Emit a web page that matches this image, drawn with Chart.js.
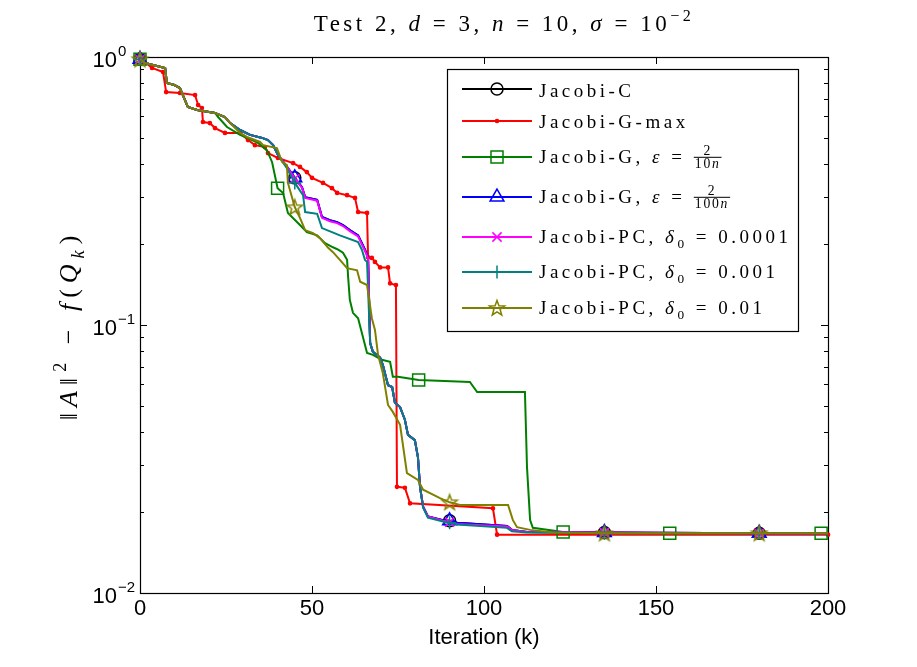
<!DOCTYPE html>
<html><head><meta charset="utf-8">
<script src="https://cdn.jsdelivr.net/npm/chart.js@4.4.0/dist/chart.umd.min.js"></script>
<style>html,body{margin:0;padding:0;background:#fff}canvas{display:block}</style>
</head><body>
<canvas id="c" width="917" height="667"></canvas>
<script>
// ---- tick labels ----
const xTickValues = [0, 50, 100, 150, 200];
const yTickValues = [1, 0.1, 0.01];
const yTickExponents = ['0', '\u22121', '\u22122'];

// ---- series data (iteration k, value) ----
const iterC = [0,1.5,7.3,7.8,10,11.6,13.9,16.6,21.8,24.7,26.2,29.1,32,35.5,37.2,38.7,40.1,42.7,45,47.1,48,51.5,52.9,55.2,57.3,59,61,63.4,64.5,65.4,66.3,66.9,67.7,69.8,70.6,72.1,73.3,74.1,75.6,77,77.9,79.9,80.8,81.4,82.3,83.7,88.1,90,92.2,106.7,108.1,112.5,135,180,200];
const valC  = [0.98,0.95,0.91,0.80,0.786,0.766,0.651,0.634,0.618,0.597,0.567,0.534,0.512,0.499,0.49,0.469,0.431,0.39,0.354,0.327,0.30,0.293,0.253,0.246,0.242,0.236,0.226,0.216,0.202,0.191,0.179,0.0857,0.0794,0.0755,0.0709,0.0596,0.0587,0.0513,0.0494,0.0443,0.0389,0.0372,0.0321,0.0249,0.0210,0.0193,0.0187,0.0186,0.0183,0.0178,0.0172,0.0169,0.0168,0.0167,0.0167];

const iterGmax = [0,0.6,3.5,6.7,7.6,11.6,16,16.9,18,18.3,20.3,21.8,24.7,29.1,31.4,33.4,36.3,37.2,40.1,44.5,46.5,48.5,50,53.2,55.8,57.3,60.2,62.5,63.4,66,66.3,67.4,68.3,69.8,72.1,72.7,74.4,74.7,77,78.5,102.6,103.8,200];
const valGmax  = [0.98,0.975,0.91,0.879,0.74,0.734,0.721,0.662,0.645,0.572,0.567,0.543,0.521,0.521,0.49,0.469,0.461,0.438,0.42,0.402,0.389,0.372,0.354,0.339,0.324,0.311,0.305,0.298,0.264,0.262,0.179,0.178,0.172,0.164,0.164,0.143,0.141,0.0249,0.0247,0.0216,0.0207,0.0165,0.0165];

const iterG10 = [0,1.5,7.3,7.8,10,11.6,13.9,16.6,21.8,22.7,25.3,29.1,31.1,34.3,36.9,38.4,40,41.6,43,46.5,48.5,51.5,52.3,53.8,56.1,57.6,59,60.2,60.5,61,61.9,63.4,66,67.7,70.3,72.7,73.5,75,81,95.9,98,111.9,112.5,113.4,114.2,123,154,198,200];
const valG10  = [0.98,0.95,0.91,0.80,0.786,0.766,0.651,0.634,0.618,0.597,0.548,0.512,0.499,0.478,0.449,0.405,0.324,0.311,0.262,0.236,0.222,0.216,0.211,0.202,0.195,0.191,0.186,0.175,0.151,0.124,0.111,0.106,0.0787,0.0774,0.0742,0.0729,0.0641,0.0641,0.0623,0.0613,0.0562,0.0562,0.0295,0.0187,0.0175,0.0169,0.0167,0.0167,0.0167];

const iterG100 = [0,1.5,7.3,7.8,10,11.6,13.9,16.6,21.8,24.7,26.2,29.1,32,35.5,37.2,38.7,40.1,42.7,45,47.1,48,51.5,52.9,55.2,57.3,59,61,63.4,64.5,65.4,66.3,66.9,67.7,69.8,70.6,72.1,73.3,74.1,75.6,77,77.9,79.9,80.8,81.4,82.3,83.7,88.1,90,92.2,106.7,108.1,112.5,135,180,200];
const valG100  = [0.98,0.95,0.91,0.80,0.786,0.766,0.651,0.634,0.618,0.597,0.567,0.534,0.512,0.499,0.49,0.469,0.431,0.39,0.354,0.327,0.30,0.293,0.253,0.246,0.242,0.236,0.226,0.216,0.202,0.191,0.179,0.0857,0.0794,0.0755,0.0709,0.0596,0.0587,0.0513,0.0494,0.0443,0.0389,0.0372,0.0321,0.0249,0.0210,0.0193,0.0187,0.0186,0.0183,0.0178,0.0172,0.0169,0.0168,0.0167,0.0167];

const iterPC4 = [0,1.5,7.3,7.8,10,11.6,13.9,16.6,21.8,24.7,26.2,29.1,32,35.5,37.2,38.7,40.1,42.7,45,47.1,48,51.5,52.9,55.2,57.3,59,61,63.4,64.5,65.4,66.3,66.9,67.7,69.8,70.6,72.1,73.3,74.1,75.6,77,77.9,79.9,80.8,81.4,82.3,83.7,88.1,90,92.2,106.7,108.1,112.5,135,180,200];
const valPC4  = [0.98,0.95,0.91,0.80,0.786,0.766,0.651,0.634,0.618,0.597,0.567,0.534,0.512,0.499,0.49,0.469,0.431,0.39,0.352,0.325,0.298,0.291,0.251,0.244,0.240,0.234,0.224,0.214,0.200,0.189,0.177,0.0857,0.0794,0.0755,0.0709,0.0596,0.0587,0.0513,0.0494,0.0443,0.0389,0.0372,0.0321,0.0249,0.0210,0.0193,0.0186,0.0184,0.0181,0.0177,0.0172,0.0169,0.0168,0.0167,0.0167];

const iterPC3 = [0,1.5,7.3,7.8,10,11.6,13.9,16.6,21.8,24.7,26.2,29.1,32,35.5,37.2,38.7,40.1,42.7,45,47.4,48,51.5,52.9,55.8,58.1,63.4,64.5,65.4,66,66.9,67.7,69.8,70.6,72.1,73.3,74.1,75.6,77,77.9,79.9,80.8,81.4,82.3,83.7,88.1,90,92.2,106.7,108.1,112.5,135,180,200];
const valPC3  = [0.98,0.95,0.91,0.80,0.786,0.766,0.651,0.634,0.618,0.597,0.567,0.534,0.512,0.499,0.49,0.469,0.431,0.385,0.339,0.305,0.264,0.260,0.230,0.222,0.216,0.204,0.191,0.175,0.172,0.0857,0.0794,0.0755,0.0709,0.0596,0.0587,0.0513,0.0494,0.0443,0.0389,0.0372,0.0321,0.0249,0.0208,0.0191,0.0185,0.0183,0.0180,0.0175,0.0170,0.0168,0.0167,0.0167,0.0167];

const iterPC2 = [0,1.5,7.3,7.8,10,11.6,13.9,16.6,21.8,24.7,26.2,29.1,31.1,34.9,35.8,39.8,41.3,42.7,43,45,46.5,48,50.3,52.3,54.7,56.1,58.1,60.2,63.1,64,66,67.4,68.3,69.2,70.6,72.1,73.5,75.6,77.6,80.8,82.3,87.2,90,93,107,108.4,109.6,113.4,120,135,180,200];
const valPC2  = [0.98,0.95,0.91,0.80,0.786,0.766,0.651,0.634,0.618,0.597,0.567,0.521,0.503,0.482,0.469,0.457,0.406,0.395,0.339,0.275,0.251,0.226,0.220,0.211,0.194,0.187,0.175,0.163,0.160,0.145,0.141,0.106,0.0958,0.0774,0.066,0.0503,0.0474,0.0424,0.028,0.0264,0.0243,0.0226,0.0218,0.0213,0.0213,0.0187,0.0176,0.0172,0.0168,0.0167,0.0167,0.0167];

// iterations carrying a marker
const markerIters = [0, 45, 90, 135, 180];
const markerItersG10 = [0, 40, 81, 123, 154, 198];

// ---- styles ----
function starCanvas(color) {
  const s = 20, c = document.createElement('canvas');
  c.width = s; c.height = s;
  const g = c.getContext('2d');
  g.strokeStyle = color; g.lineWidth = 1.5; g.lineJoin = 'miter';
  g.beginPath();
  for (let i = 0; i < 10; i++) {
    const a = -Math.PI / 2 + i * Math.PI / 5, rr = i % 2 ? 3.3 : 8;
    g.lineTo(s / 2 + rr * Math.cos(a), s / 2 + 0.5 + rr * Math.sin(a));
  }
  g.closePath(); g.stroke();
  return c;
}

const seriesDefs = [
  { label: 'Jacobi-C', iters: iterC, vals: valC, color: '#000000', style: 'circle', r: 6, marks: markerIters },
  { label: 'Jacobi-G-max', iters: iterGmax, vals: valGmax, color: '#ff0000', style: 'circle', r: 1.6, marks: null, fill: true },
  { label: 'Jacobi-G, eps=2/(10n)', iters: iterG10, vals: valG10, color: '#008000', style: 'rect', r: 8.5, marks: markerItersG10 },
  { label: 'Jacobi-G, eps=2/(100n)', iters: iterG100, vals: valG100, color: '#0000ff', style: 'triangle', r: 8, marks: markerIters },
  { label: 'Jacobi-PC, d0=0.0001', iters: iterPC4, vals: valPC4, color: '#ff00ff', style: 'crossRot', r: 6.5, marks: markerIters },
  { label: 'Jacobi-PC, d0=0.001', iters: iterPC3, vals: valPC3, color: '#008080', style: 'cross', r: 6.5, marks: markerIters },
  { label: 'Jacobi-PC, d0=0.01', iters: iterPC2, vals: valPC2, color: '#808000', style: starCanvas('#808000'), r: 8, marks: markerIters }
];

const datasets = seriesDefs.map((s, i) => ({
  label: s.label,
  data: s.iters.map((k, j) => ({ x: k, y: s.vals[j] })),
  borderColor: s.color,
  borderWidth: 2,
  pointStyle: s.style,
  pointBorderColor: s.color,
  pointBackgroundColor: s.fill ? s.color : 'rgba(0,0,0,0)',
  pointBorderWidth: 1.5,
  pointRadius: c => (!s.marks ? s.r : (c.raw && s.marks.includes(c.raw.x) ? s.r : 0)),
  tension: 0,
  clip: false,
  order: 7 - i
}));

// ---- rich text helper ----
const SERIF = '"Liberation Serif", "DejaVu Serif", serif';
function drawRich(ctx, parts, x, base, size, spacing, measureOnly) {
  let cx = x;
  ctx.textBaseline = 'alphabetic';
  ctx.textAlign = 'left';
  for (const p of parts) {
    const st = p.s || 'n';
    if (st === 'frac') {
      const fs = size * 0.72;
      ctx.letterSpacing = (spacing * 0.5) + 'px';
      ctx.font = fs + 'px ' + SERIF;
      const wn = ctx.measureText(p.num).width;
      const wdDigits = ctx.measureText(p.den).width;
      ctx.font = 'italic ' + fs + 'px ' + SERIF;
      const wdN = ctx.measureText('n').width;
      const wd = wdDigits + wdN;
      const w = Math.max(wn, wd) + 2;
      if (!measureOnly) {
        const bar = base - size * 0.3;
        ctx.font = fs + 'px ' + SERIF;
        ctx.fillText(p.num, cx + (w - wn) / 2, bar - 2.5);
        const dx = cx + (w - wd) / 2;
        ctx.fillText(p.den, dx, bar + fs * 0.8);
        ctx.font = 'italic ' + fs + 'px ' + SERIF;
        ctx.fillText('n', dx + wdDigits, bar + fs * 0.8);
        ctx.fillRect(cx, bar - 0.5, w, 1);
      }
      cx += w + spacing;
      continue;
    }
    let fs = size, dy = 0, font = '';
    if (st === 'i') font = 'italic ';
    if (st === 'sub') { fs = size * 0.7; dy = size * 0.28; }
    if (st === 'sup') { fs = size * 0.7; dy = -size * 0.42; }
    if (st === 'subi') { fs = size * 0.7; dy = size * 0.28; font = 'italic '; }
    ctx.font = font + fs + 'px ' + SERIF;
    ctx.letterSpacing = spacing + 'px';
    const w = ctx.measureText(p.t).width;
    if (!measureOnly) ctx.fillText(p.t, cx, base + dy);
    cx += w;
  }
  ctx.letterSpacing = '0px';
  return cx - x;
}

const titleParts = [
  { t: 'Test 2, ' }, { t: 'd', s: 'i' }, { t: ' = 3, ' }, { t: 'n', s: 'i' }, { t: ' = 10, ' },
  { t: '\u03C3', s: 'i' }, { t: ' = 10' }, { t: '\u22122', s: 'sup' }
];
const yLabelParts = [
  { t: '\u2016' }, { t: 'A', s: 'i' }, { t: '\u2016' }, { t: '2', s: 'sup' }, { t: ' \u2212 ' },
  { t: 'f', s: 'i' }, { t: '(' }, { t: 'Q', s: 'i' }, { t: 'k', s: 'subi' }, { t: ')' }
];
const legendRows = [
  { line: 89, base: 97, parts: [{ t: 'Jacobi-C' }] },
  { line: 121, base: 128, parts: [{ t: 'Jacobi-G-max' }] },
  { line: 157, base: 163, parts: [{ t: 'Jacobi-G, ' }, { t: '\u03B5', s: 'i' }, { t: ' = ' }, { s: 'frac', num: '2', den: '10' }] },
  { line: 197, base: 203, parts: [{ t: 'Jacobi-G, ' }, { t: '\u03B5', s: 'i' }, { t: ' = ' }, { s: 'frac', num: '2', den: '100' }] },
  { line: 237, base: 243, parts: [{ t: 'Jacobi-PC, ' }, { t: '\u03B4', s: 'i' }, { t: '0', s: 'sub' }, { t: ' = 0.0001' }] },
  { line: 272, base: 278, parts: [{ t: 'Jacobi-PC, ' }, { t: '\u03B4', s: 'i' }, { t: '0', s: 'sub' }, { t: ' = 0.001' }] },
  { line: 308, base: 314, parts: [{ t: 'Jacobi-PC, ' }, { t: '\u03B4', s: 'i' }, { t: '0', s: 'sub' }, { t: ' = 0.01' }] }
];

// ---- plugins ----
const framePlugin = {
  id: 'frame',
  beforeDatasetsDraw(chart) {
    const ctx = chart.ctx, a = chart.chartArea, xs = chart.scales.x, ys = chart.scales.y;
    ctx.save();
    ctx.strokeStyle = '#000'; ctx.lineWidth = 1;
    ctx.beginPath();
    for (const v of xTickValues) {
      const px = Math.round(xs.getPixelForValue(v)) + 0.5;
      ctx.moveTo(px, a.bottom); ctx.lineTo(px, a.bottom - 7);
      ctx.moveTo(px, a.top); ctx.lineTo(px, a.top + 7);
    }
    for (let e = -2; e <= 0; e++) {
      for (let m = 1; m <= 9; m++) {
        const v = m * Math.pow(10, e);
        if (v > 1.0001) break;
        const py = Math.round(ys.getPixelForValue(v)) + 0.5;
        const len = m === 1 ? 7 : 4;
        ctx.moveTo(a.left, py); ctx.lineTo(a.left + len, py);
        ctx.moveTo(a.right, py); ctx.lineTo(a.right - len, py);
      }
    }
    ctx.stroke();
    ctx.lineWidth = 1.2;
    ctx.strokeRect(Math.round(a.left) + 0.5, Math.round(a.top) + 0.5, Math.round(a.right - a.left), Math.round(a.bottom - a.top));
    ctx.restore();
  },
  afterDraw(chart) {
    const ctx = chart.ctx, ys = chart.scales.y;
    ctx.save();
    ctx.fillStyle = '#000';
    yTickValues.forEach((v, i) => {
      const py = ys.getPixelForValue(v);
      ctx.font = '22px "Liberation Sans", Arial, sans-serif';
      ctx.textAlign = 'right'; ctx.textBaseline = 'alphabetic';
      ctx.fillText('10', 117, py + 10);
      ctx.font = '15px "Liberation Sans", Arial, sans-serif';
      ctx.textAlign = 'left';
      ctx.fillText(yTickExponents[i], 118, py - 1);
    });
    // title
    const tw = drawRich(ctx, titleParts, 0, 0, 23, 3.5, true);
    drawRich(ctx, titleParts, 504 - tw / 2, 31, 23, 3.5, false);
    // y axis title
    ctx.save();
    ctx.translate(77, 325);
    ctx.rotate(-Math.PI / 2);
    const yw = drawRich(ctx, yLabelParts, 0, 0, 26, 6, true);
    drawRich(ctx, yLabelParts, -yw / 2, 0, 26, 6, false);
    ctx.restore();
    // legend box
    ctx.fillStyle = '#fff';
    ctx.fillRect(447, 69, 351, 262);
    ctx.strokeStyle = '#000'; ctx.lineWidth = 1.2;
    ctx.strokeRect(447.5, 69.5, 351, 262);
    legendRows.forEach((row, i) => {
      const s = seriesDefs[i];
      ctx.strokeStyle = s.color; ctx.lineWidth = 2;
      ctx.beginPath(); ctx.moveTo(462, row.line); ctx.lineTo(532, row.line); ctx.stroke();
      ctx.fillStyle = s.fill ? s.color : 'rgba(0,0,0,0)';
      ctx.lineWidth = 1.5;
      Chart.helpers.drawPoint(ctx, { pointStyle: s.style, radius: s.r, rotation: 0, borderWidth: 1.5 }, 497, row.line);
      if (s.fill) ctx.fill();
      ctx.fillStyle = '#000';
      drawRich(ctx, row.parts, 539, row.base, 19, 3.5, false);
    });
    ctx.restore();
  }
};

new Chart(document.getElementById('c').getContext('2d'), {
  type: 'line',
  data: { datasets },
  options: {
    responsive: false,
    animation: false,
    events: [],
    devicePixelRatio: 1,
    layout: { padding: { left: 0, right: 89, top: 57, bottom: 0 } },
    plugins: { legend: { display: false }, tooltip: { enabled: false }, title: { display: false } },
    scales: {
      x: {
        type: 'linear', min: 0, max: 200,
        ticks: { stepSize: 50, color: '#000', padding: 3, maxRotation: 0, font: { family: '"Liberation Sans", Arial, sans-serif', size: 22 } },
        grid: { display: false, drawTicks: false },
        border: { display: false },
        title: { display: true, text: 'Iteration (k)', color: '#000', font: { family: '"Liberation Sans", Arial, sans-serif', size: 22 }, padding: { top: 0, bottom: 16 } },
        afterFit: s => { s.height = 74; }
      },
      y: {
        type: 'logarithmic', min: 0.01, max: 1,
        ticks: { display: false },
        grid: { display: false, drawTicks: false },
        border: { display: false },
        afterFit: s => { s.width = 140; }
      }
    }
  },
  plugins: [framePlugin]
});
</script>
</body></html>
